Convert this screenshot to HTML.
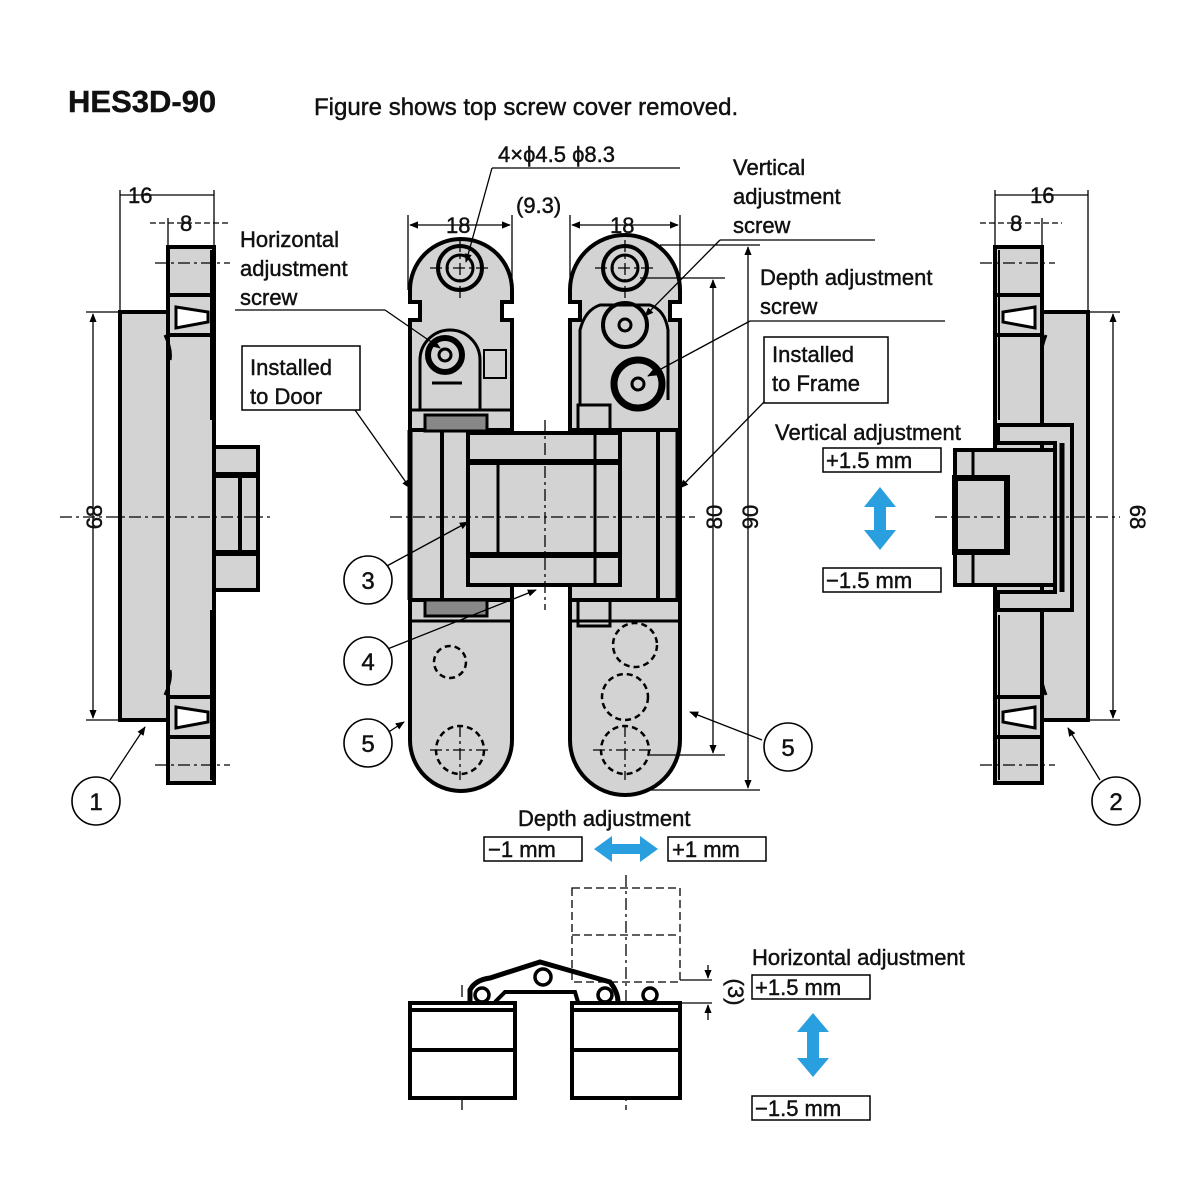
<!DOCTYPE html>
<html><head><meta charset="utf-8"><style>
html,body{margin:0;padding:0;background:#fff}
svg{display:block}
text{font-family:"Liberation Sans",Arial,sans-serif;fill:#111;stroke:#111;stroke-width:0.45}
</style></head><body>
<svg width="1200" height="1200" viewBox="0 0 1200 1200" xmlns="http://www.w3.org/2000/svg">
<defs>
<marker id="ar" viewBox="0 0 10 10" refX="9" refY="5" markerWidth="7" markerHeight="7" orient="auto-start-reverse"><path d="M0,1 L10,5 L0,9 z" fill="#000"/></marker>
</defs>
<text x="68" y="112" font-size="31" font-weight="bold">HES3D-90</text>
<text x="314" y="115" font-size="24">Figure shows top screw cover removed.</text>

<g stroke="#000" fill="none">
<!-- LEFT SIDE VIEW -->
<g stroke-width="4" fill="#d3d3d3">
<rect x="120" y="312" width="94" height="408"/>
<rect x="168" y="247" width="46" height="536"/>
<rect x="214" y="447" width="44" height="143"/>
</g>
<rect x="122" y="314" width="44" height="404" fill="#d3d3d3" stroke="none"/>
<g stroke-width="4" fill="#d3d3d3">
<rect x="168" y="295" width="46" height="40"/>
<rect x="168" y="697" width="46" height="40"/>
</g>
<path d="M176,307 L208,312 L208,322 L176,328 z" stroke-width="3" fill="#fff"/>
<path d="M176,707 L208,712 L208,722 L176,728 z" stroke-width="3" fill="#fff"/>
<path d="M165,335 Q172,350 170,360 M165,695 Q172,680 170,670" stroke-width="3"/>
<line x1="214" y1="475" x2="258" y2="475" stroke-width="6"/>
<line x1="214" y1="553" x2="258" y2="553" stroke-width="6"/>
<line x1="240" y1="475" x2="240" y2="553" stroke-width="4"/>
<line x1="211" y1="250" x2="211" y2="420" stroke-width="2"/>
<line x1="211" y1="610" x2="211" y2="780" stroke-width="2"/>
<g stroke-width="1.3" stroke-dasharray="12,4,3,4">
<line x1="60" y1="517" x2="270" y2="517"/>
<line x1="155" y1="263" x2="230" y2="263"/>
<line x1="155" y1="765" x2="230" y2="765"/>
</g>
<g stroke-width="1.3">
<line x1="120" y1="190" x2="120" y2="312"/><line x1="214" y1="190" x2="214" y2="247"/><line x1="168" y1="218" x2="168" y2="247"/>
<line x1="120" y1="195" x2="214" y2="195"/>
<line x1="150" y1="223" x2="230" y2="223" stroke-dasharray="6,3"/>
<line x1="86" y1="312" x2="120" y2="312"/><line x1="86" y1="720" x2="120" y2="720"/>
<line x1="93" y1="314" x2="93" y2="718" marker-start="url(#ar)" marker-end="url(#ar)"/>
<line x1="110" y1="780" x2="145" y2="727" marker-end="url(#ar)"/>
</g>

<!-- RIGHT SIDE VIEW -->
<g stroke-width="4" fill="#d3d3d3">
<rect x="1042" y="312" width="46" height="408"/>
<rect x="995" y="247" width="47" height="536"/>
</g>
<rect x="1044" y="314" width="42" height="404" fill="#d3d3d3" stroke="none"/>
<g stroke-width="4" fill="#d3d3d3">
<path d="M998,425 L1072,425 L1072,610 L998,610 L998,592 L1055,592 L1055,443 L998,443 z"/>
<rect x="955" y="450" width="100" height="135"/>
<rect x="955" y="478" width="52" height="74" stroke-width="6"/>
<rect x="995" y="295" width="47" height="40"/>
<rect x="995" y="697" width="47" height="40"/>
</g>
<path d="M1035,307 L1003,312 L1003,322 L1035,328 z" stroke-width="3" fill="#fff"/>
<path d="M1035,707 L1003,712 L1003,722 L1035,728 z" stroke-width="3" fill="#fff"/>
<path d="M1046,335 Q1040,350 1042,360 M1046,695 Q1040,680 1042,670" stroke-width="3"/>
<line x1="973" y1="450" x2="973" y2="478" stroke-width="3"/><line x1="973" y1="552" x2="973" y2="585" stroke-width="3"/>
<line x1="1062" y1="443" x2="1062" y2="592" stroke-width="5"/>
<line x1="999" y1="250" x2="999" y2="420" stroke-width="2"/>
<line x1="999" y1="615" x2="999" y2="780" stroke-width="2"/>
<g stroke-width="1.3" stroke-dasharray="12,4,3,4">
<line x1="935" y1="517" x2="1120" y2="517"/>
<line x1="980" y1="263" x2="1055" y2="263"/>
<line x1="980" y1="765" x2="1055" y2="765"/>
</g>
<g stroke-width="1.3">
<line x1="995" y1="190" x2="995" y2="247"/><line x1="1088" y1="190" x2="1088" y2="312"/><line x1="1042" y1="218" x2="1042" y2="247"/>
<line x1="995" y1="195" x2="1088" y2="195"/>
<line x1="980" y1="223" x2="1062" y2="223" stroke-dasharray="6,3"/>
<line x1="1088" y1="312" x2="1120" y2="312"/><line x1="1088" y1="720" x2="1120" y2="720"/>
<line x1="1113" y1="314" x2="1113" y2="718" marker-start="url(#ar)" marker-end="url(#ar)"/>
<line x1="1100" y1="780" x2="1068" y2="728" marker-end="url(#ar)"/>
</g>

<!-- CENTRAL HINGE -->
<g stroke-width="4" fill="#d3d3d3">
<path d="M410,290 A51,51 0 0 1 512,290 L512,302 L502,302 L502,320 L512,320 L512,740 A51,51 0 0 1 410,740 L410,320 L420,320 L420,302 L410,302 z"/>
<path d="M570,290 A55,55 0 0 1 680,290 L680,302 L670,302 L670,320 L680,320 L680,740 A55,55 0 0 1 570,740 L570,320 L580,320 L580,302 L570,302 z"/>
<rect x="410" y="430" width="102" height="170"/>
<rect x="570" y="430" width="110" height="170"/>
<rect x="442" y="430" width="70" height="170"/>
<rect x="570" y="430" width="88" height="170"/>
<rect x="468" y="433" width="152" height="152"/>
</g>
<g stroke-width="6">
<line x1="468" y1="462" x2="620" y2="462"/>
<line x1="468" y1="555" x2="620" y2="555"/>
<line x1="410" y1="430" x2="410" y2="600" stroke-width="5"/>
<line x1="678" y1="430" x2="678" y2="600" stroke-width="5"/>
</g>
<g stroke-width="3">
<line x1="498" y1="462" x2="498" y2="555"/>
<line x1="595" y1="433" x2="595" y2="585"/>
<rect x="425" y="415" width="62" height="16" fill="#888"/>
<rect x="425" y="600" width="62" height="16" fill="#888"/>
<line x1="412" y1="410" x2="512" y2="410"/><line x1="412" y1="621" x2="512" y2="621"/>
<rect x="578" y="405" width="32" height="26"/><rect x="578" y="600" width="32" height="26"/>
<line x1="572" y1="621" x2="680" y2="621"/>
</g>
<circle cx="460" cy="268" r="22" stroke-width="4"/><circle cx="460" cy="268" r="13" stroke-width="3"/>
<path d="M420,410 L420,360 A30,30 0 0 1 480,360 L480,410" stroke-width="3"/>
<circle cx="445" cy="355" r="17" stroke-width="6"/><circle cx="445" cy="355" r="6" stroke-width="3"/>
<rect x="484" y="350" width="22" height="28" stroke-width="2"/>
<path d="M432,383 L462,383" stroke-width="3"/>
<circle cx="625" cy="268" r="22" stroke-width="4"/><circle cx="625" cy="268" r="13" stroke-width="3"/>
<path d="M580,405 L580,330 Q585,310 600,305 L650,305 Q665,310 668,330 L668,400" stroke-width="3"/>
<circle cx="625" cy="325" r="22" stroke-width="4"/><circle cx="625" cy="325" r="6" stroke-width="3"/>
<circle cx="638" cy="384" r="24" stroke-width="7"/><circle cx="638" cy="384" r="6" stroke-width="3"/>
<g stroke-width="2.5" stroke-dasharray="6,4">
<circle cx="450" cy="662" r="16"/>
<circle cx="460" cy="750" r="24"/>
<circle cx="635" cy="645" r="22"/>
<circle cx="625" cy="697" r="23"/>
<circle cx="625" cy="750" r="24"/>
</g>
<g stroke-width="1.3" stroke-dasharray="12,4,3,4">
<line x1="390" y1="517" x2="695" y2="517"/>
<line x1="460" y1="240" x2="460" y2="300"/><line x1="430" y1="268" x2="490" y2="268"/>
<line x1="625" y1="240" x2="625" y2="300"/><line x1="595" y1="268" x2="655" y2="268"/>
<line x1="545" y1="420" x2="545" y2="610"/>
<line x1="430" y1="750" x2="490" y2="750"/><line x1="460" y1="725" x2="460" y2="780"/>
<line x1="593" y1="750" x2="655" y2="750"/><line x1="625" y1="725" x2="625" y2="780"/>
</g>
<g stroke-width="1.3">
<line x1="408" y1="215" x2="408" y2="290"/><line x1="512" y1="215" x2="512" y2="300"/>
<line x1="570" y1="215" x2="570" y2="300"/><line x1="680" y1="215" x2="680" y2="300"/>
<line x1="410" y1="225" x2="510" y2="225" marker-start="url(#ar)" marker-end="url(#ar)"/>
<line x1="572" y1="225" x2="678" y2="225" marker-start="url(#ar)" marker-end="url(#ar)"/>
<line x1="492" y1="168" x2="466" y2="262" marker-end="url(#ar)"/>
<line x1="492" y1="168" x2="680" y2="168"/>
<line x1="640" y1="278" x2="725" y2="278"/><line x1="660" y1="245" x2="760" y2="245"/>
<line x1="650" y1="755" x2="725" y2="755"/><line x1="650" y1="790" x2="760" y2="790"/>
<line x1="713" y1="280" x2="713" y2="753" marker-start="url(#ar)" marker-end="url(#ar)"/>
<line x1="748" y1="247" x2="748" y2="788" marker-start="url(#ar)" marker-end="url(#ar)"/>
<line x1="720" y1="240" x2="875" y2="240"/><line x1="720" y1="240" x2="645" y2="316" marker-end="url(#ar)"/>
<line x1="750" y1="321" x2="945" y2="321"/><line x1="750" y1="321" x2="648" y2="376" marker-end="url(#ar)"/>
<line x1="235" y1="310" x2="385" y2="310"/><line x1="385" y1="310" x2="440" y2="348" marker-end="url(#ar)"/>
<line x1="355" y1="410" x2="410" y2="488" marker-end="url(#ar)"/>
<line x1="764" y1="402" x2="680" y2="488" marker-end="url(#ar)"/>
<line x1="385" y1="567" x2="468" y2="522" marker-end="url(#ar)"/>
<line x1="385" y1="650" x2="536" y2="590" marker-end="url(#ar)"/>
<line x1="384" y1="735" x2="404" y2="722" marker-end="url(#ar)"/>
<line x1="762" y1="740" x2="690" y2="712" marker-end="url(#ar)"/>
</g>
<g stroke-width="1.6" fill="#fff">
<circle cx="96" cy="801" r="24"/><circle cx="1116" cy="801" r="24"/>
<circle cx="368" cy="580" r="24"/><circle cx="368" cy="661" r="24"/>
<circle cx="368" cy="743" r="24"/><circle cx="788" cy="747" r="24"/>
</g>
<g stroke-width="1.5" fill="#fff">
<rect x="242" y="346" width="118" height="64"/>
<rect x="764" y="337" width="124" height="66"/>
<rect x="823" y="448" width="118" height="24"/>
<rect x="823" y="568" width="118" height="24"/>
<rect x="484" y="837" width="98" height="24"/>
<rect x="668" y="837" width="98" height="24"/>
<rect x="752" y="975" width="118" height="24"/>
<rect x="752" y="1096" width="118" height="24"/>
</g>

<!-- BOTTOM VIEW -->
<g stroke-width="1.3" stroke-dasharray="8,4">
<rect x="572" y="888" width="108" height="94"/>
<line x1="572" y1="935" x2="680" y2="935"/>
<line x1="626" y1="875" x2="626" y2="1110" stroke-dasharray="12,4,3,4"/>
<line x1="462" y1="985" x2="462" y2="1110" stroke-dasharray="12,4,3,4"/>
</g>
<g stroke-width="4" fill="#fff">
<rect x="410" y="1003" width="105" height="95"/>
<rect x="572" y="1003" width="108" height="95"/>
</g>
<g stroke-width="4">
<line x1="410" y1="1010" x2="515" y2="1010"/><line x1="572" y1="1010" x2="680" y2="1010"/>
<line x1="410" y1="1050" x2="515" y2="1050"/><line x1="572" y1="1050" x2="680" y2="1050"/>
<path d="M470,1002 L470,990 Q475,980 490,978 L540,962 L610,982 Q618,992 618,1002" stroke-width="5"/>
<path d="M495,1002 L505,992 L575,992 L578,1002" stroke-width="4"/>
</g>
<g stroke-width="3.5" fill="#fff">
<circle cx="482" cy="995" r="7"/><circle cx="543" cy="977" r="8"/><circle cx="605" cy="995" r="7"/><circle cx="650" cy="995" r="7"/>
</g>
<g stroke-width="1.3">
<line x1="680" y1="980" x2="712" y2="980"/><line x1="680" y1="1003" x2="712" y2="1003"/>
<line x1="708" y1="965" x2="708" y2="978" marker-end="url(#ar)"/>
<line x1="708" y1="1020" x2="708" y2="1005" marker-end="url(#ar)"/>
</g>
</g>

<g fill="#2a9fe0">
<path d="M880,487 L896,507 L886,507 L886,530 L896,530 L880,550 L864,530 L874,530 L874,507 L864,507 z"/>
<path d="M594,849 L612,836 L612,844 L640,844 L640,836 L658,849 L640,862 L640,854 L612,854 L612,862 z"/>
<path d="M813,1013 L829,1032 L819,1032 L819,1058 L829,1058 L813,1077 L797,1058 L807,1058 L807,1032 L797,1032 z"/>
</g>

<g font-size="22">
<text x="128" y="203">16</text><text x="180" y="231">8</text>
<text x="1030" y="203">16</text><text x="1010" y="231">8</text>
<text x="446" y="233">18</text><text x="610" y="233">18</text>
<text x="516" y="213">(9.3)</text>
<text x="498" y="162">4×ϕ4.5 ϕ8.3</text>
<text x="102" y="517" transform="rotate(-90 102 517)" text-anchor="middle">68</text>
<text x="1130" y="517" transform="rotate(90 1130 517)" text-anchor="middle">68</text>
<text x="722" y="517" transform="rotate(-90 722 517)" text-anchor="middle">80</text>
<text x="758" y="517" transform="rotate(-90 758 517)" text-anchor="middle">90</text>
<text x="728" y="992" transform="rotate(90 728 992)" text-anchor="middle">(3)</text>
<text x="240" y="247">Horizontal</text><text x="240" y="276">adjustment</text><text x="240" y="305">screw</text>
<text x="733" y="175">Vertical</text><text x="733" y="204">adjustment</text><text x="733" y="233">screw</text>
<text x="760" y="285">Depth adjustment</text><text x="760" y="314">screw</text>
<text x="250" y="375">Installed</text><text x="250" y="404">to Door</text>
<text x="772" y="362">Installed</text><text x="772" y="391">to Frame</text>
<text x="775" y="440">Vertical adjustment</text>
<text x="826" y="468">+1.5 mm</text><text x="826" y="588">−1.5 mm</text>
<text x="518" y="826">Depth adjustment</text>
<text x="488" y="857">−1 mm</text><text x="672" y="857">+1 mm</text>
<text x="752" y="965">Horizontal adjustment</text>
<text x="755" y="995">+1.5 mm</text><text x="755" y="1116">−1.5 mm</text>
</g>
<g font-size="24" text-anchor="middle">
<text x="96" y="810">1</text><text x="1116" y="810">2</text>
<text x="368" y="589">3</text><text x="368" y="670">4</text>
<text x="368" y="752">5</text><text x="788" y="756">5</text>
</g>
</svg>
</body></html>
